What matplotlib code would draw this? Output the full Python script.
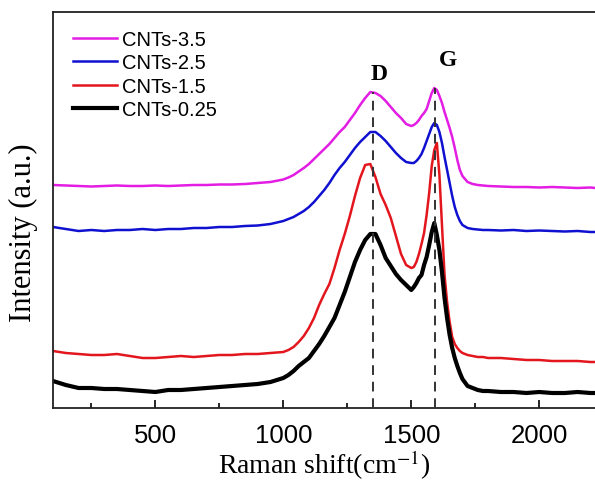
import matplotlib
matplotlib.use("Agg")
import matplotlib.pyplot as plt
from matplotlib.ticker import MultipleLocator

plt.rcParams["mathtext.fontset"] = "stix"

# Raman shift grid (cm^-1)
shift = [100, 150, 200, 250, 300, 350, 400, 450, 500, 550, 600, 650, 700, 750,
         800, 850, 900, 950, 1000, 1020, 1040, 1060, 1080, 1100, 1120, 1140,
         1160, 1180, 1200, 1220, 1240, 1260, 1280, 1300, 1320, 1340, 1360,
         1380, 1400, 1420, 1440, 1460, 1480, 1500, 1510, 1520, 1530, 1540,
         1550, 1560, 1570, 1580, 1590, 1600, 1610, 1620, 1630, 1640, 1650,
         1660, 1670, 1680, 1690, 1700, 1720, 1740, 1760, 1780, 1800, 1850,
         1900, 1950, 2000, 2050, 2100, 2150, 2200, 2220]

# Stacked, offset intensities (a.u.)
cnt_35 = [223, 222.5, 222, 221.5, 222, 222.5, 222, 222, 222.5, 222, 222.5, 223,
          223, 223.5, 223.5, 224, 225, 226, 228.5, 230.5, 233, 236.5, 240, 244,
          249, 254, 259, 264, 270, 276, 281, 288, 295, 303, 310, 316, 315, 312,
          307, 301, 295, 290, 284, 282, 283, 285, 288, 292, 295, 299, 307, 315,
          320, 318, 312, 305, 296, 288, 280, 271, 260, 248, 238, 232, 226, 224,
          223, 222.5, 222, 221.5, 221, 221, 220.5, 221, 220.5, 220, 220.5, 220]

cnt_25 = [181, 179, 177, 178, 177, 178, 178, 179, 178, 179, 179, 180, 180, 181,
          181, 182, 182.5, 184, 187, 189, 191, 194, 197, 201, 206, 212, 218,
          225, 233, 240, 246, 253, 260, 266, 271, 276, 276, 272, 267, 261, 255,
          250, 246, 245, 245, 247, 250, 254, 260, 267, 274, 281, 285, 283, 276,
          265, 251, 238, 225, 212, 201, 193, 187, 183, 180, 179, 178.5, 178,
          178, 177.5, 178, 177, 177.5, 177, 176.5, 177, 176, 176]

cnt_15 = [57, 55, 54, 53, 53, 54, 52, 50, 50, 51, 52, 51, 52, 53, 53, 54, 54,
          55, 56, 58, 61, 66, 72, 80, 90, 103, 114, 124, 140, 158, 174, 192,
          212, 230, 243, 244, 231, 214, 203, 190, 172, 154, 143, 140, 141, 146,
          154, 164, 175, 193, 215, 242, 258, 265, 233, 183, 133, 106, 86, 71,
          64, 60, 57, 55, 53, 52, 51, 51, 50, 50, 49, 48, 48, 47, 47, 47, 46, 46]

cnt_025 = [27, 23, 20, 20, 19, 19, 18, 17, 16, 18, 18, 19, 20, 21, 22, 23, 24,
           26, 30, 33, 37, 42, 46, 50, 57, 64, 72, 81, 90, 103, 116, 131, 146,
           158, 168, 174, 174, 163, 150, 142, 134, 128, 123, 118, 121, 125, 130,
           133, 143, 151, 163, 176, 185, 173, 158, 136, 110, 90, 73, 60, 50, 42,
           35, 29, 22, 20, 18, 17, 17, 16, 16, 15, 16, 15, 15, 16, 15, 15]

series = [
    ("CNTs-3.5", cnt_35, "#e31de3", 1.8),
    ("CNTs-2.5", cnt_25, "#1010d0", 1.8),
    ("CNTs-1.5", cnt_15, "#e3161e", 1.8),
    ("CNTs-0.25", cnt_025, "#000000", 3.0),
]

d_band, g_band = 1350, 1592

fig = plt.figure(figsize=(5.95, 4.81), dpi=100)
ax = fig.add_axes([53 / 595, (481 - 409) / 481, 1 - 53 / 595, (409 - 13) / 481])

for label, values, color, lw in series:
    ax.plot(shift, values, color=color, lw=lw, label=label,
            solid_joinstyle="round")

ax.set_xlim(100, 2218)
ax.set_ylim(0, 396)

# Band markers
for pos, top in ((d_band, 316), (g_band, 320)):
    ax.plot([pos, pos], [0, top], color="#333333", lw=1.4,
            dashes=(5, 3.5), zorder=5)
ax.text(d_band + 25, 335, "D", ha="center", va="center", fontsize=17,
        fontweight="bold", family="Liberation Serif")
ax.text(g_band + 50, 348, "G", ha="center", va="center", fontsize=17,
        fontweight="bold", family="Liberation Serif")

ax.spines["right"].set_visible(False)
for s in ("left", "bottom", "top"):
    ax.spines[s].set_linewidth(1.3)
    ax.spines[s].set_color("#222222")

ax.xaxis.set_major_locator(MultipleLocator(500))
ax.xaxis.set_minor_locator(MultipleLocator(250))
ax.tick_params(axis="x", which="major", direction="in", length=6, width=1.2,
               labelsize=18.5, pad=11)
ax.tick_params(axis="x", which="minor", direction="in", length=3.5, width=1.2)
ax.tick_params(axis="x", which="both", top=False)
ax.set_yticks([])
for t in ax.get_xticklabels():
    t.set_family("Liberation Sans")

ax.set_xlabel("Raman shift(cm$^{-1}$)", family="Liberation Serif",
              fontsize=20, labelpad=0)
ax.xaxis.set_label_coords(0.5, -0.1)
ax.set_ylabel("Intensity (a.u.)", family="Liberation Serif", fontsize=22)
ax.yaxis.set_label_coords(-0.028, 0.445)

leg = ax.legend(loc="upper left", bbox_to_anchor=(0.037, 0.955), frameon=False,
                prop={"family": "Liberation Sans", "size": 14.5},
                handlelength=2.2, handletextpad=0.25, labelspacing=0.22,
                borderpad=0, borderaxespad=0)

fig.savefig("out.png", dpi=100)
